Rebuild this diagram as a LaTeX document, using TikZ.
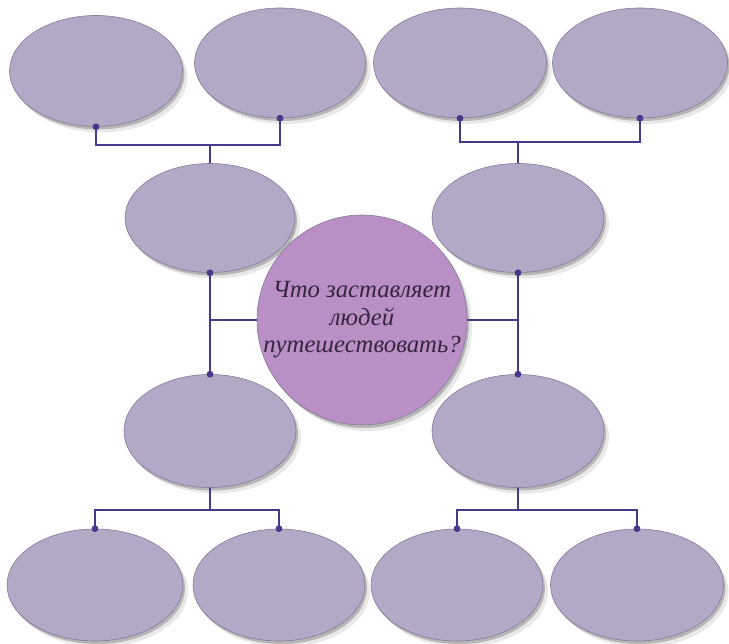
\documentclass[tikz,border=0pt]{standalone}
\usepackage{fontspec}
\newfontfamily\rufont{Liberation Serif}
\usetikzlibrary{shapes.geometric,shadows}
\definecolor{bubblec}{HTML}{B3A9C6}
\definecolor{edgec}{HTML}{857A98}
\definecolor{corec}{HTML}{B98FC6}
\definecolor{linkc}{HTML}{47388A}
\definecolor{textc}{HTML}{352540}
\tikzset{
	softshadow/.style={
		drop shadow={shadow xshift=2pt,shadow yshift=-3pt,opacity=0.3,fill=black!75},
		drop shadow={shadow xshift=5pt,shadow yshift=-6pt,opacity=0.15,fill=black!60}},
	bubble/.style={ellipse,inner sep=0pt,fill=bubblec,draw=edgec,line width=0.6pt,softshadow},
	link/.style={draw=linkc,line width=1.7pt},
}
\begin{document}
\begin{tikzpicture}[x=1pt,y=-1pt]
				\useasboundingbox (0,0) rectangle (729,644);
				\node[bubble,minimum width=173,minimum height=111] (tlA) at (96,71) {};
				\node[bubble,minimum width=171,minimum height=110] (tlB) at (280,63) {};
				\node[bubble,minimum width=173,minimum height=110] (trA) at (460,63) {};
				\node[bubble,minimum width=175,minimum height=110] (trB) at (640,63) {};
				\node[bubble,minimum width=170,minimum height=109] (ml) at (210,218) {};
				\node[bubble,minimum width=172,minimum height=109] (mr) at (518,218) {};
				\node[bubble,minimum width=172,minimum height=113] (bl) at (210,431) {};
				\node[bubble,minimum width=172,minimum height=113] (br) at (518,431) {};
				\node[bubble,minimum width=176,minimum height=112] (bbA) at (95,585) {};
				\node[bubble,minimum width=172,minimum height=112] (bbB) at (279,585) {};
				\node[bubble,minimum width=172,minimum height=112] (bbC) at (457,585) {};
				\node[bubble,minimum width=173,minimum height=112] (bbD) at (637,585) {};
				\node[circle,inner sep=-12pt,minimum size=210,fill=corec,draw=edgec,line width=0.6pt,softshadow,
					text=textc,align=center,font=\rufont\itshape\fontsize{24.7}{27.5}\selectfont] (core) at (362,320)
					{Что заставляет\\людей\\путешествовать?};
				% joints
				\coordinate (jTL) at (210,145);
				\coordinate (jTR) at (518,142);
				\coordinate (jBL) at (210,510);
				\coordinate (jBR) at (518,510);
				\draw[link] (tlA.south) |- (jTL) -| (tlB.south);
				\draw[link] (jTL) -- (ml.north);
				\draw[link] (trA.south) |- (jTR) -| (trB.south);
				\draw[link] (jTR) -- (mr.north);
				\draw[link] (ml.south) -- (bl.north);
				\draw[link] (mr.south) -- (br.north);
				\draw[link] (core.west) -- (core.west -| ml.south);
				\draw[link] (core.east) -- (core.east -| mr.south);
				\draw[link] (bl.south) -- (jBL);
				\draw[link] (bbA.north) |- (jBL) -| (bbB.north);
				\draw[link] (br.south) -- (jBR);
				\draw[link] (bbC.north) |- (jBR) -| (bbD.north);
				\foreach \p in {tlA.south,tlB.south,trA.south,trB.south,ml.south,mr.south,
					bl.north,br.north,bbA.north,bbB.north,bbC.north,bbD.north}
					\fill[linkc] (\p) circle (3.4);
			\end{tikzpicture}
\end{document}
